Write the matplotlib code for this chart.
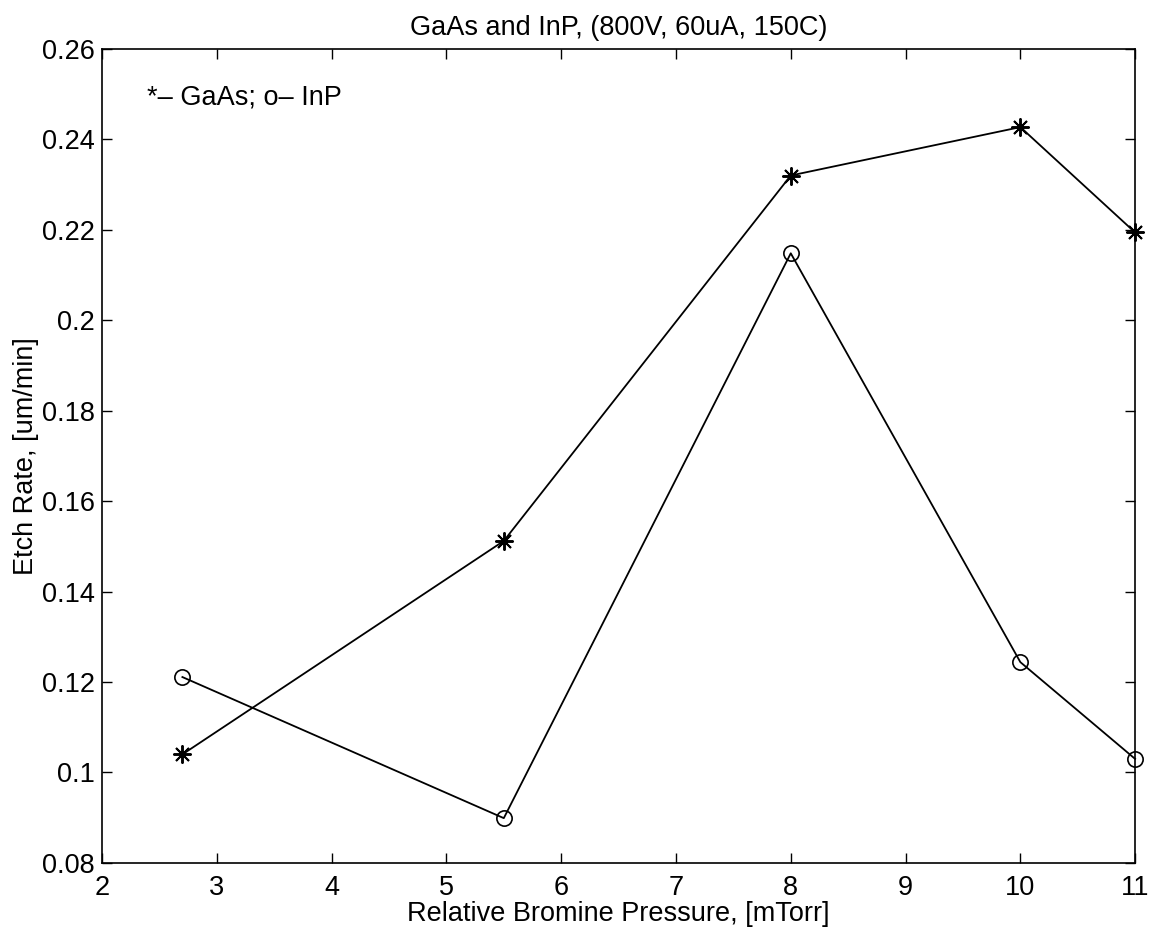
import matplotlib
matplotlib.use("Agg")
from matplotlib import pyplot as plt
from matplotlib.ticker import FormatStrFormatter

# data
pressure = [2.7, 5.5, 8.0, 10.0, 11.0]
gaas_rate = [0.104, 0.1512, 0.232, 0.2427, 0.2194]
inp_rate = [0.1211, 0.0899, 0.2148, 0.1244, 0.1030]

xticks = [2, 3, 4, 5, 6, 7, 8, 9, 10, 11]
yticks = [0.08, 0.10, 0.12, 0.14, 0.16, 0.18, 0.20, 0.22, 0.24, 0.26]

plt.rcParams['font.family'] = ['Liberation Sans', 'DejaVu Sans']
fs = 19.5

fig = plt.figure(figsize=(11.53, 9.40), dpi=100)
ax = fig.add_axes([0.0885, 0.082, 0.896, 0.866])

ax.plot(pressure, gaas_rate, color='black', lw=1.3, marker=(8, 2, 0), ms=13,
        markeredgewidth=1.4, clip_on=False)
ax.plot(pressure, inp_rate, color='black', lw=1.3, marker='o', ms=11,
        markerfacecolor='none', markeredgewidth=1.2, clip_on=False)

ax.set_xlim(2, 11)
ax.set_ylim(0.08, 0.26)
ax.set_xticks(xticks)
ax.set_yticks(yticks)
ax.yaxis.set_major_formatter(FormatStrFormatter('%g'))
ax.tick_params(direction='in', length=7, width=1, top=True, right=True, labelsize=fs)
ax.tick_params(axis='x', pad=9)
ax.tick_params(axis='y', pad=5)
for s in ax.spines.values():
    s.set_linewidth(1.2)

ax.text(2.39, 0.2493, '*\u2013 GaAs; o\u2013 InP', fontsize=fs, va='center', ha='left')

ax.set_title('GaAs and InP, (800V, 60uA, 150C)', fontsize=fs, pad=10)
ax.set_xlabel('Relative Bromine Pressure, [mTorr]', fontsize=fs, labelpad=0)
ax.set_ylabel('Etch Rate, [um/min]', fontsize=fs, labelpad=2)

fig.savefig('out.png', dpi=100)
